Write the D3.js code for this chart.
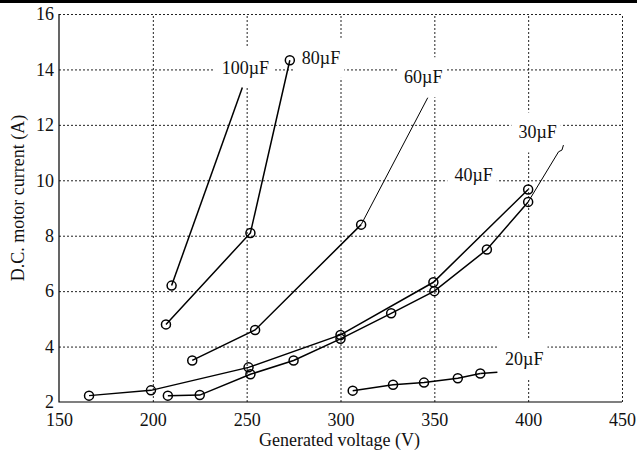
<!DOCTYPE html>
<meta charset="utf-8">
<style>
body { margin: 0; background: #fff; }
text { font-family: "Liberation Serif", "Times New Roman", serif; fill: #111; }
.grid line { stroke: #222; stroke-width: 1; stroke-dasharray: 2,2; }
.grid path { display: none; }
.lab path { display: none; }
.series { fill: none; stroke: #000; stroke-width: 1.5; }
.leader { fill: none; stroke: #000; stroke-width: 1; }
.dot { fill: none; stroke: #000; stroke-width: 1.5; }
</style>
<body>
<script src="https://d3js.org/d3.v7.min.js"></script>
<script>

var width = 637,
    height = 452;

// tick values
var xTicks = [150, 200, 250, 300, 350, 400, 450];
var yTicks = [2, 4, 6, 8, 10, 12, 14, 16];

// measured points, one pair of arrays per capacitor
var v100 = [210], a100 = [6.2];
var v80 = [207, 252, 273], a80 = [4.8, 8.1, 14.33];
var v60 = [221, 254.5, 311], a60 = [3.5, 4.6, 8.4];
var v40 = [166, 199, 251, 300, 349.5, 400], a40 = [2.23, 2.42, 3.25, 4.42, 6.32, 9.67];
var v30 = [208, 225, 252, 275, 300, 327, 350, 378, 400], a30 = [2.23, 2.25, 3.0, 3.5, 4.28, 5.2, 6.0, 7.5, 9.22];
var v20 = [306.5, 328, 344.5, 362.5, 374.5], a20 = [2.41, 2.62, 2.7, 2.86, 3.03];

// leader lines running from the data to the labels
var lead100V = [210, 247.7], lead100A = [6.2, 13.35];
var lead60V = [311, 346.5], lead60A = [8.4, 12.98];
var lead30V = [400, 416.2, 418, 418.8], lead30A = [9.22, 11.03, 11.09, 11.27];
var lead20V = [374.5, 383.6], lead20A = [3.03, 3.07];

var labelNames = ["100\u00b5F", "80\u00b5F", "60\u00b5F", "40\u00b5F", "30\u00b5F", "20\u00b5F"];
var labelV = [236.7, 279.4, 333.9, 360.7, 394.8, 387.7];
var labelA = [13.85, 14.2, 13.5, 9.98, 11.51, 3.33];

var margin = {left: 59, right: 15, top: 14, bottom: 50};

var x = d3.scaleLinear().domain([150, 450]).range([margin.left, width - margin.right]);
var y = d3.scaleLinear().domain([2, 16]).range([height - margin.bottom, margin.top]);

var svg = d3.select("body").append("svg")
    .attr("width", width)
    .attr("height", height);

svg.append("rect").attr("x", 0).attr("y", 0).attr("width", width).attr("height", 3).attr("fill", "#000");

// dotted grid
svg.append("g")
    .attr("class", "grid")
    .attr("transform", "translate(0," + y(2) + ")")
    .call(d3.axisBottom(x).tickValues(xTicks.slice(1)).tickSize(-(y(2) - y(16))).tickFormat(""));
svg.append("g")
    .attr("class", "grid")
    .attr("transform", "translate(" + x(150) + ",0)")
    .call(d3.axisLeft(y).tickValues(yTicks.slice(1)).tickSize(-(x(450) - x(150))).tickFormat(""));

// solid left and bottom axes
svg.append("path")
    .attr("d", "M" + x(150) + "," + y(16) + "V" + y(2) + "H" + x(450))
    .attr("fill", "none").attr("stroke", "#000").attr("stroke-width", 1.2);

var xl = svg.append("g")
    .attr("class", "lab")
    .attr("transform", "translate(0," + y(2) + ")")
    .call(d3.axisBottom(x).tickValues(xTicks).tickSize(0).tickPadding(11).tickFormat(d3.format("d")));
var yl = svg.append("g")
    .attr("class", "lab")
    .attr("transform", "translate(" + x(150) + ",0)")
    .call(d3.axisLeft(y).tickValues(yTicks).tickSize(0).tickPadding(5).tickFormat(d3.format("d")));
svg.selectAll(".lab text").style("font-family", "'Liberation Serif', serif").style("font-size", "18px").attr("fill", "#111");

// label boxes knock out the grid
var labels = labelNames.map(function(t, i) { return {t: t, v: labelV[i], a: labelA[i]}; });
var lg = svg.append("g");
var lt = lg.selectAll("g").data(labels).enter().append("g");
lt.append("rect").attr("class", "bg").attr("fill", "#fff");
lt.append("text")
    .attr("x", function(d) { return x(d.v); })
    .attr("y", function(d) { return y(d.a); })
    .style("font-size", "18px")
    .text(function(d) { return d.t; });
lt.each(function() {
  var g = d3.select(this), b = g.select("text").node().getBBox();
  var base = +g.select("text").attr("y");
  g.select("rect")
      .attr("x", b.x - 7).attr("y", base - 26)
      .attr("width", b.width + 11).attr("height", 40);
});

var line = d3.line()
    .x(function(d) { return x(d[0]); })
    .y(function(d) { return y(d[1]); });

function zip(vs, as) { return vs.map(function(v, i) { return [v, as[i]]; }); }

var series = [zip(v80, a80), zip(v60, a60), zip(v40, a40), zip(v30, a30), zip(v20, a20), zip(v100, a100)];

svg.append("g").selectAll("path")
    .data([zip(lead100V, lead100A), zip(lead20V, lead20A)].concat(series))
  .enter().append("path")
    .attr("class", "series")
    .attr("d", line);

svg.append("g").selectAll("path")
    .data([zip(lead60V, lead60A), zip(lead30V, lead30A)])
  .enter().append("path")
    .attr("class", "leader")
    .attr("d", line);

svg.append("g").selectAll("circle")
    .data(d3.merge(series))
  .enter().append("circle")
    .attr("class", "dot")
    .attr("cx", function(d) { return x(d[0]); })
    .attr("cy", function(d) { return y(d[1]); })
    .attr("r", 4.5);

// axis titles
svg.append("text")
    .attr("x", (x(150) + x(450)) / 2 - 1)
    .attr("y", 446)
    .attr("text-anchor", "middle")
    .style("font-size", "18px")
    .text("Generated voltage (V)");

svg.append("text")
    .attr("transform", "translate(24,198) rotate(-90)")
    .attr("text-anchor", "middle")
    .style("font-size", "18px")
    .text("D.C. motor current (A)");

</script>
